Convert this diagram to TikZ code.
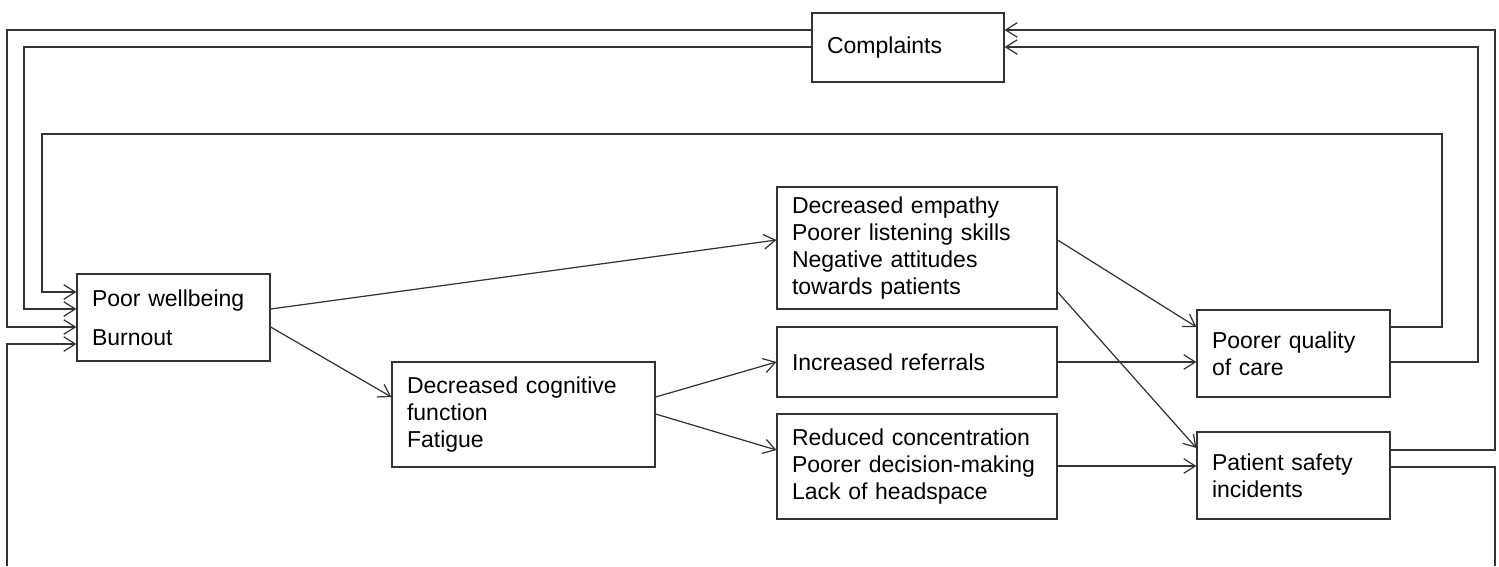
\documentclass[tikz,border=0pt]{standalone}
\usepackage{fontspec}
\setmainfont{Liberation Sans}
\usetikzlibrary{arrows.meta}
\begin{document}
\begin{tikzpicture}[x=0.02cm,y=-0.02cm,
  box/.style={draw=black!80, line width=0.7pt, rectangle, inner xsep=0.3cm, inner ysep=0pt,
    align=left, font=\fontsize{13.1}{15.4}\selectfont},
  conn/.style={draw=black!80, line width=0.7pt},
  arr/.style={conn, -{Straight Barb[length=2.3mm,width=2.9mm,line width=0.7pt]}}]
\useasboundingbox (0,0) rectangle (1499,566);

\node[box, minimum width=3.84cm, text width=3.24cm, minimum height=1.38cm] (compl) at (908,47.5) {Complaints};
\node[box, minimum width=3.86cm, text width=3.26cm, minimum height=1.74cm] (pw) at (173.5,317.5) {Poor wellbeing\\[6.7pt]Burnout};
\node[box, minimum width=5.6cm, text width=5.0cm, minimum height=2.44cm] (emp) at (917,248) {Decreased empathy\\Poorer listening skills\\Negative attitudes\\towards patients};
\node[box, minimum width=5.6cm, text width=5.0cm, minimum height=1.4cm] (ref) at (917,362) {Increased referrals};
\node[box, minimum width=5.6cm, text width=5.0cm, minimum height=2.1cm] (red) at (917,466.5) {Reduced concentration\\Poorer decision-making\\Lack of headspace};
\node[box, minimum width=5.26cm, text width=4.66cm, minimum height=2.1cm] (cog) at (523.5,414.5) {Decreased cognitive\\function\\Fatigue};
\node[box, minimum width=3.86cm, text width=3.26cm, minimum height=1.74cm] (qual) at (1293.5,353.5) {Poorer quality\\of care};
\node[box, minimum width=3.86cm, text width=3.26cm, minimum height=1.74cm] (safe) at (1293.5,475.5) {Patient safety\\incidents};

\coordinate (botL) at (7,566);
\coordinate (botR) at (1495,566);

% feedback loops
\draw[arr] (compl.west |- 0,30) -| (7,327) -- (pw.west |- 0,327);
\draw[arr] (compl.west |- 0,47) -| (24,309) -- (pw.west |- 0,309);
\draw[arr] (qual.east |- 0,327) -| (1442,134) -| (42,292) -- (pw.west |- 0,292);
\draw[arr] (qual.east |- 0,362) -| (1478,47) -- (compl.east |- 0,47);
\draw[arr] (safe.east |- 0,450) -| (1495,30) -- (compl.east |- 0,30);
\draw[conn] (safe.east |- 0,467) -| (botR);
\draw[arr] (botL) |- (pw.west |- 0,344);

% forward arrows
\draw[arr] (pw.east |- 0,309) -- (emp.west |- 0,240);
\draw[arr] (pw.east |- 0,327) -- (cog.west |- 0,397);
\draw[arr] (cog.east |- 0,397) -- (ref.west |- 0,362);
\draw[arr] (cog.east |- 0,414) -- (red.west |- 0,450);
\draw[arr] (emp.east |- 0,240) -- (qual.west |- 0,327);
\draw[arr] (emp.east |- 0,292) -- (safe.west |- 0,448);
\draw[arr] (ref.east) -- (qual.west |- ref.east);
\draw[arr] (red.east |- 0,466) -- (safe.west |- 0,466);
\end{tikzpicture}
\end{document}
